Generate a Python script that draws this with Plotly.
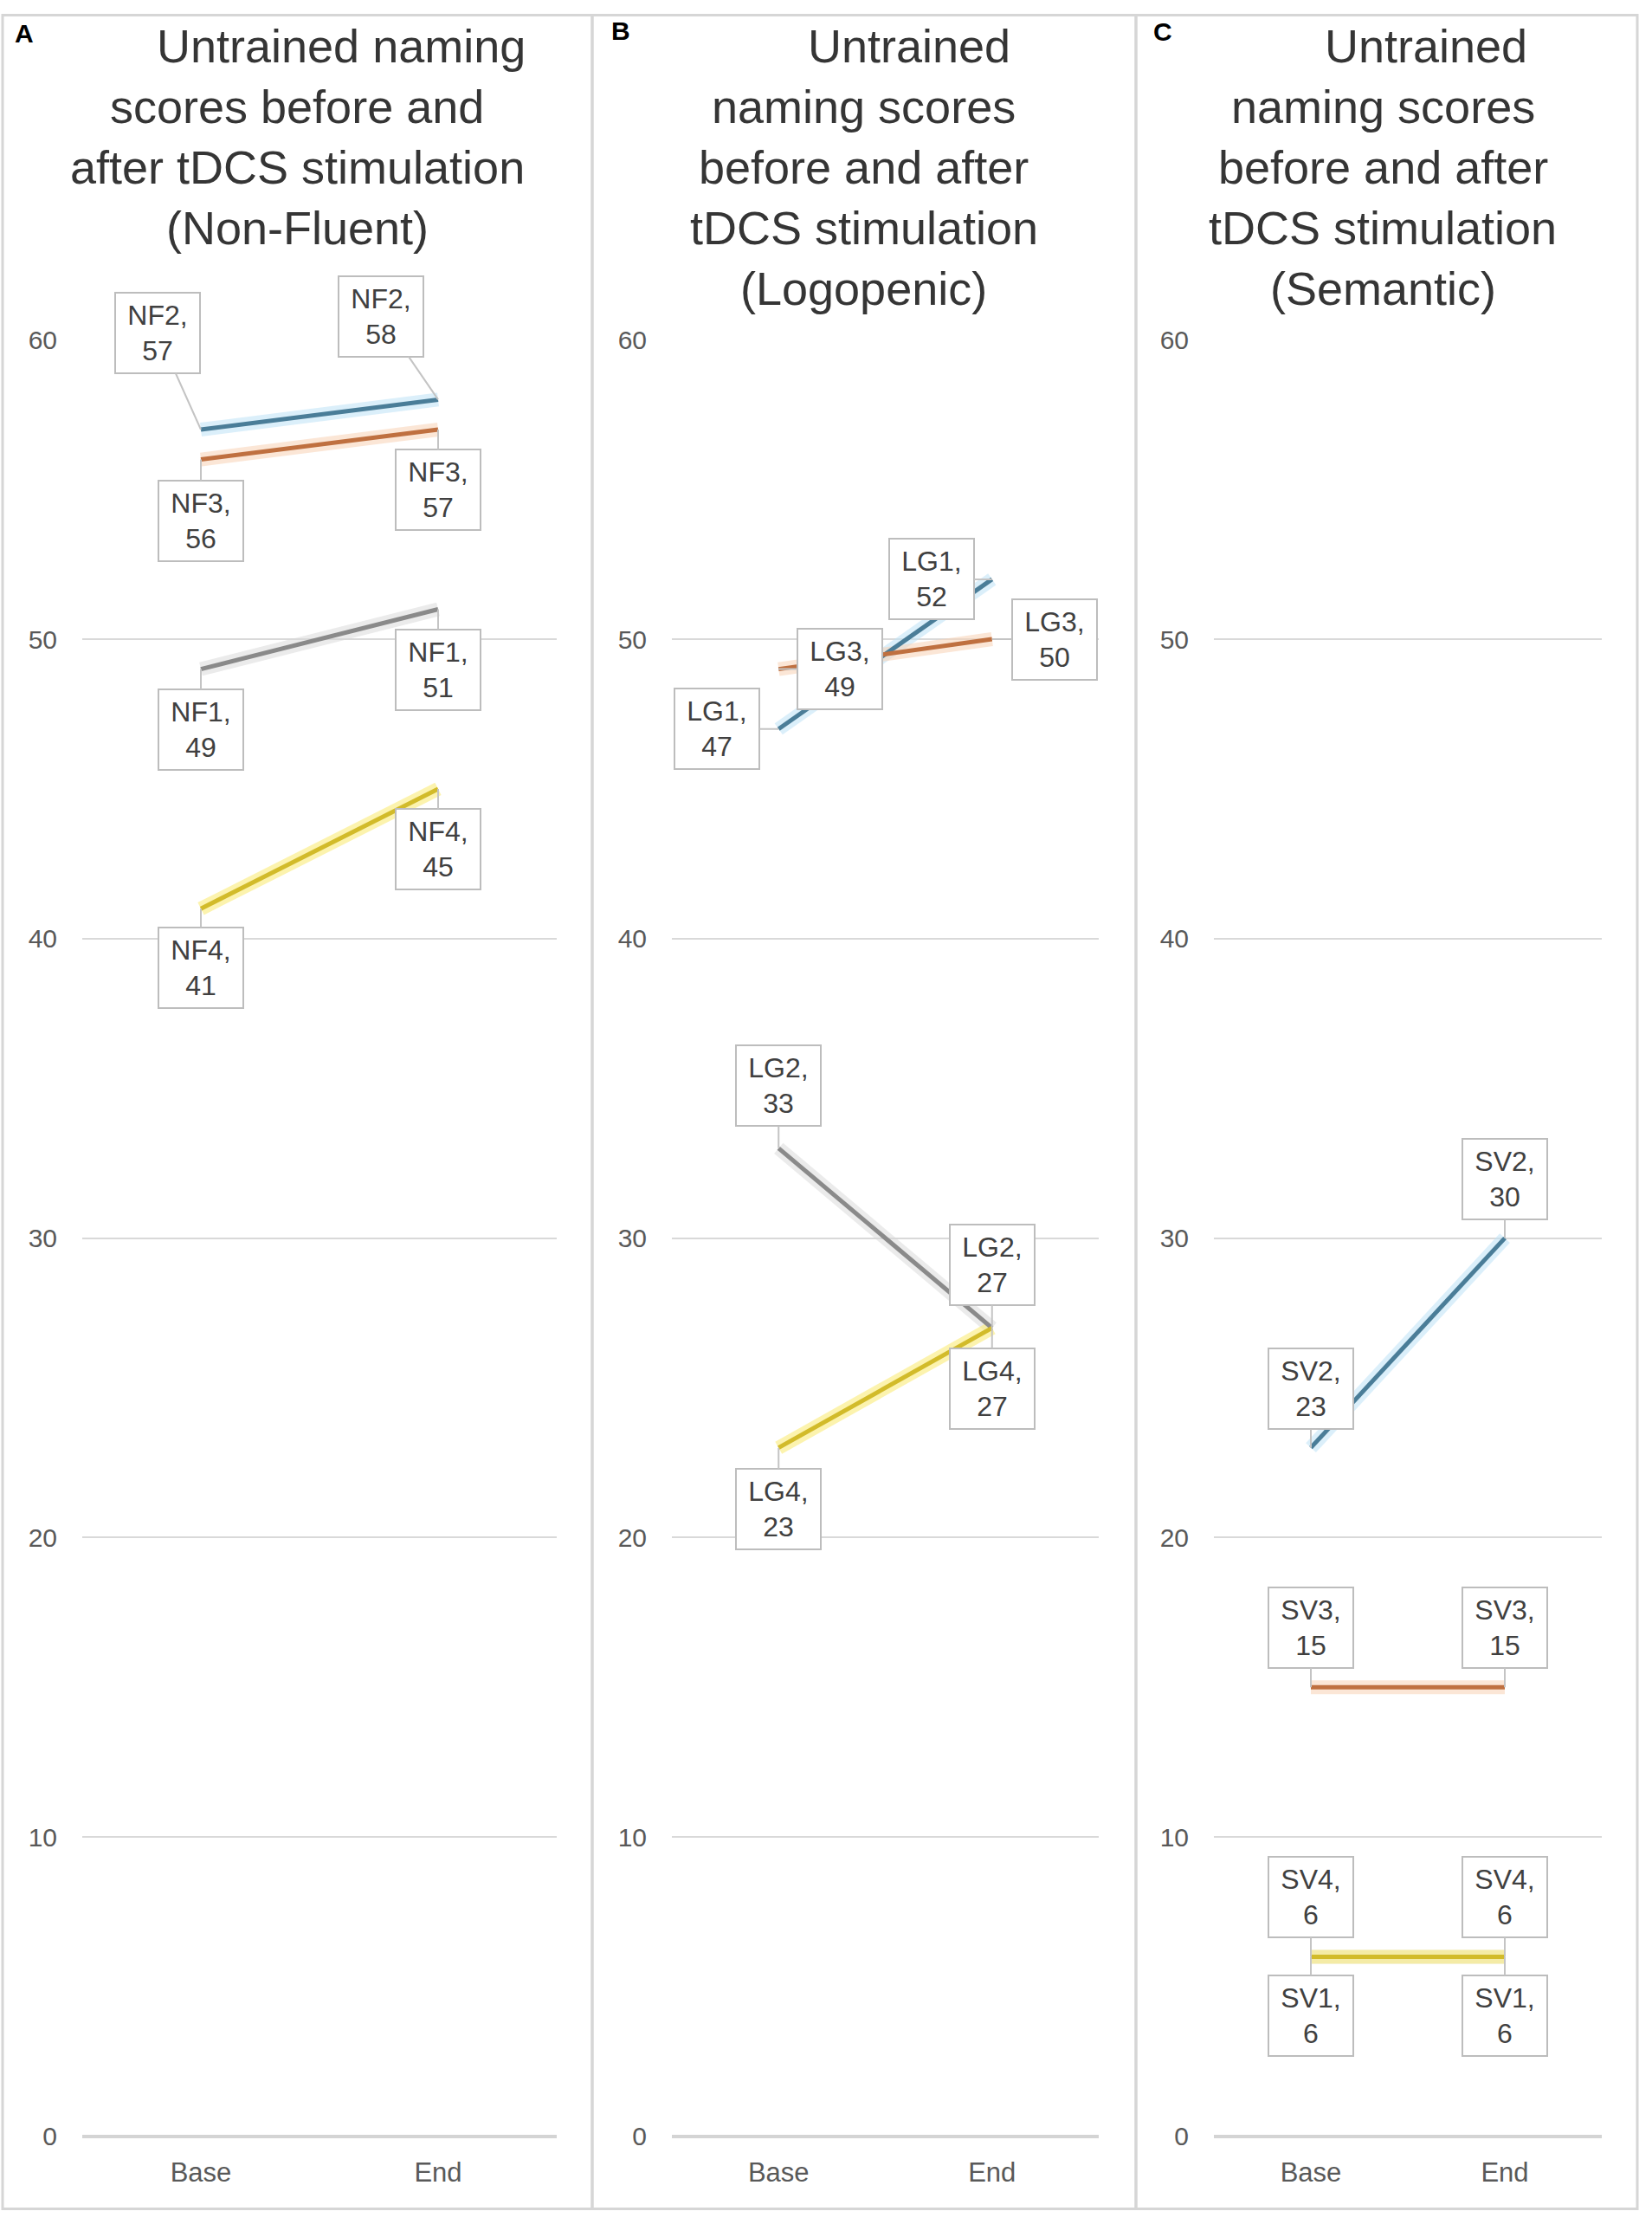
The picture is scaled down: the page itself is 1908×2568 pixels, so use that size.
import plotly.graph_objects as go

W, H = 1908, 2568

categories = ["Base", "End"]

# Panel A: Non-Fluent
nf_names = ["NF2", "NF3", "NF1", "NF4"]
nf_base = [57, 56, 49, 41]
nf_end = [58, 57, 51, 45]

# Panel B: Logopenic
lg_names = ["LG1", "LG3", "LG2", "LG4"]
lg_base = [47, 49, 33, 23]
lg_end = [52, 50, 27, 27]

# Panel C: Semantic
sv_names = ["SV2", "SV3", "SV1", "SV4"]
sv_base = [23, 15, 6, 6]
sv_end = [30, 15, 6, 6]

y_ticks = [0, 10, 20, 30, 40, 50, 60]

panel_letters = ["A", "B", "C"]
title_lines = [
    ["Untrained naming", "scores before and", "after tDCS stimulation", "(Non-Fluent)"],
    ["Untrained", "naming scores", "before and after", "tDCS stimulation", "(Logopenic)"],
    ["Untrained", "naming scores", "before and after", "tDCS stimulation", "(Semantic)"],
]

# ---- styling / layout (pixels) ----
series_colors = ["#4a7d98", "#bf7040", "#8a8a8a", "#d2bb2a"]
glow_colors = ["rgba(190,225,245,0.55)", "rgba(248,210,180,0.55)",
               "rgba(215,215,215,0.5)", "rgba(250,235,120,0.6)"]

# label offsets (ax, ay) in pixels for base / end points
offsets = [
    [[(-50, -110), (-66, -95)], [(0, 70), (0, 69)], [(0, 69), (0, 69)], [(0, 67), (0, 69)]],
    [[(-71, 0), (-70, 0)], [(71, 0), (72, 0)], [(0, -71), (0, -72)], [(0, 70), (0, 69)]],
    [[(0, -67), (0, -67)], [(0, -68), (0, -68)], [(0, 67), (0, 67)], [(0, -68), (0, -68)]],
]

VS = 0.98673   # vertical scale seen in the rendered page
VOFF = 16.05   # vertical offset seen in the rendered page


def vy(y):
    """target pixel row -> pixel row in the figure"""
    return min(H - 1.5, max(1.5, (y - VOFF) / VS))


plot_x = [(95, 643), (776, 1269), (1402, 1850)]
plot_y = (392, 2465)
frames = [(3, 684), (684, 1312), (1312, 1891)]
frame_y = (3, 2550)
title_cx = [343, 998, 1597]
first_line_shift = [51, 52, 50]
letter_pos = [(28, 39), (717, 36), (1343, 37)]
title_top = 53
title_step = 70

FONT = "Liberation Sans, Arial, sans-serif"


def px(x):
    return x / W


def py(y):
    return 1 - vy(y) / H


panels = [
    (nf_names, nf_base, nf_end),
    (lg_names, lg_base, lg_end),
    (sv_names, sv_base, sv_end),
]

fig = go.Figure()
annotations = []

for p, (names, base, end) in enumerate(panels):
    xa = "x" if p == 0 else f"x{p + 1}"
    ya = "y" if p == 0 else f"y{p + 1}"
    # glow underlays
    for i, nm in enumerate(names):
        fig.add_trace(go.Scatter(
            x=categories, y=[base[i], end[i]], mode="lines",
            line=dict(color=glow_colors[i], width=16),
            xaxis=xa, yaxis=ya, showlegend=False, hoverinfo="skip"))
    for i, nm in enumerate(names):
        fig.add_trace(go.Scatter(
            x=categories, y=[base[i], end[i]], mode="lines",
            line=dict(color=series_colors[i], width=5),
            name=nm, xaxis=xa, yaxis=ya, showlegend=False))
    for i, nm in enumerate(names):
        for j, val in enumerate([base[i], end[i]]):
            ax, ay = offsets[p][i][j]
            annotations.append(dict(
                x=categories[j], y=val, xref=xa, yref=ya,
                text=f"{nm},<br>{val}", showarrow=True, arrowhead=0,
                arrowwidth=2, arrowcolor="#c4c4c4", ax=ax, ay=ay / VS,
                axref="pixel", ayref="pixel", standoff=0,
                bgcolor="white", bordercolor="#bdbdbd", borderwidth=2,
                borderpad=2, width=92, height=87, align="center",
                font=dict(family=FONT, size=32, color="#404040")))

    # titles
    for k, line in enumerate(title_lines[p]):
        cx = title_cx[p] + (first_line_shift[p] if k == 0 else 0)
        annotations.append(dict(
            x=px(cx), y=py(title_top + k * title_step), xref="paper", yref="paper",
            text=line, showarrow=False, xanchor="center", yanchor="middle",
            font=dict(family=FONT, size=54, color="#353535")))
    lx, ly = letter_pos[p]
    annotations.append(dict(
        x=px(lx), y=py(ly), xref="paper", yref="paper", text=f"<b>{panel_letters[p]}</b>",
        showarrow=False, xanchor="center", yanchor="middle",
        font=dict(family=FONT, size=30, color="#000000")))

shapes = []
for (x0, x1) in frames:
    shapes.append(dict(type="rect", xref="paper", yref="paper",
                       x0=px(x0), x1=px(x1), y0=py(frame_y[1]), y1=py(frame_y[0]),
                       line=dict(color="#d6d6d6", width=3), layer="below"))

layout = dict(
    width=W, height=H, margin=dict(l=0, r=0, t=0, b=0),
    paper_bgcolor="white", plot_bgcolor="white",
    annotations=annotations, shapes=shapes, showlegend=False,
)

for p in range(3):
    sfx = "" if p == 0 else str(p + 1)
    x0, x1 = plot_x[p]
    layout[f"xaxis{sfx}"] = dict(
        domain=[px(x0), px(x1)], type="category", range=[-0.5, 1.5],
        categoryorder="array", categoryarray=categories,
        showgrid=False, zeroline=False, showline=False, ticks="",
        tickfont=dict(family=FONT, size=31, color="#595959"),
        ticklabelstandoff=20, anchor="y" if p == 0 else f"y{p + 1}", fixedrange=True)
    layout[f"yaxis{sfx}"] = dict(
        domain=[py(plot_y[1]), py(plot_y[0])], range=[0, 60],
        tickvals=y_ticks, showgrid=True, gridcolor="#d9d9d9", gridwidth=2,
        zeroline=True, zerolinecolor="#d4d4d4", zerolinewidth=4, showline=False, ticks="",
        tickfont=dict(family=FONT, size=30, color="#595959"),
        ticklabelstandoff=28, anchor="x" if p == 0 else f"x{p + 1}", fixedrange=True)

fig.update_layout(**layout)
fig.write_html(
    "out.html",
    config={"displayModeBar": False, "staticPlot": True},
    post_script="document.body.style.margin='0';document.body.style.overflow='hidden';",
)
